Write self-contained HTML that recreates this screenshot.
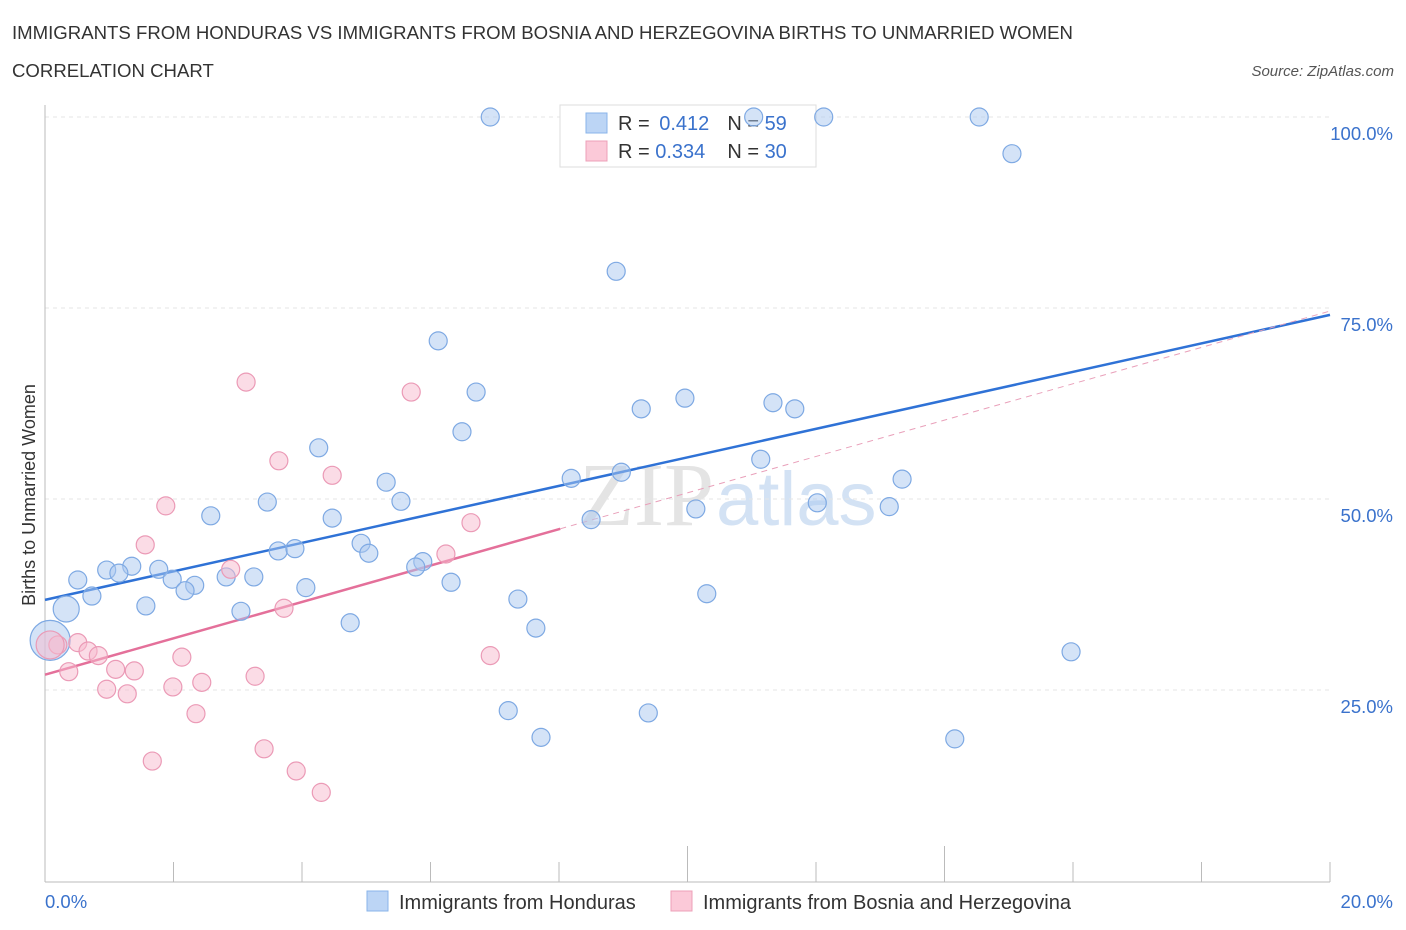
<!DOCTYPE html>
<html><head><meta charset="utf-8"><style>
body{margin:0;background:#fff;font-family:"Liberation Sans",sans-serif;}
svg{display:block}
</style></head><body>
<svg id="chart" width="1406" height="930" xmlns="http://www.w3.org/2000/svg">
<text x="12" y="39" font-size="18.6" fill="#333">IMMIGRANTS FROM HONDURAS VS IMMIGRANTS FROM BOSNIA AND HERZEGOVINA BIRTHS TO UNMARRIED WOMEN</text>
<text x="12" y="77" font-size="18.6" fill="#333">CORRELATION CHART</text>
<text x="1394" y="76" font-size="15" fill="#555" font-style="italic" text-anchor="end">Source: ZipAtlas.com</text>
<text x="714" y="525" font-size="90" fill="#e4e4e4" text-anchor="end" font-family="Liberation Serif,serif">ZIP</text>
<text x="716" y="525" font-size="76" fill="#d3e2f4">atlas</text>
<g id="grid"></g><g id="axes"></g>
<text x="35" y="495" font-size="18" fill="#333" text-anchor="middle" transform="rotate(-90 35 495)">Births to Unmarried Women</text>
<g>
<rect x="560" y="105" width="256" height="62" fill="#fff" stroke="#ddd"/>
<rect x="586" y="113" width="21" height="20" fill="#bcd5f5" stroke="#8ab4ea"/>
<rect x="586" y="141" width="21" height="20" fill="#fbc9d8" stroke="#eda0b8"/>
<text x="618" y="130" font-size="20" fill="#333">R = <tspan fill="#3a72cc" dx="4">0.412</tspan><tspan dx="18" fill="#333">N = </tspan><tspan fill="#3a72cc">59</tspan></text>
<text x="618" y="158" font-size="20" fill="#333">R = <tspan fill="#3a72cc">0.334</tspan><tspan dx="22" fill="#333">N = </tspan><tspan fill="#3a72cc">30</tspan></text>
</g>
<g id="lines"></g><g id="pts"></g>
<g>
<rect x="367" y="891" width="21" height="20" fill="#bcd5f5" stroke="#8ab4ea"/>
<text x="399" y="909" font-size="20" fill="#333">Immigrants from Honduras</text>
<rect x="671" y="891" width="21" height="20" fill="#fbc9d8" stroke="#eda0b8"/>
<text x="703" y="909" font-size="20" fill="#333">Immigrants from Bosnia and Herzegovina</text>
</g>
</svg>
<script>
const blueX=[6.93,11.03,12.12,14.54,15.05,8.89,6.12,6.71,6.49,4.26,9.28,9.96,11.33,11.67,11.14,8.97,8.19,5.31,13.34,5.54,3.46,12.02,13.14,10.13,2.58,4.47,8.50,4.92,5.04,3.63,3.89,5.88,5.77,6.32,1.35,0.96,1.15,1.77,1.98,0.51,2.33,2.18,2.82,3.25,4.06,0.73,7.36,10.30,1.57,0.33,3.05,4.75,7.64,15.97,0.08,7.21,9.39,7.72,14.16];
const blueY=[100,100,100,100,95.2,79.8,70.7,64.0,58.8,56.7,61.8,63.2,62.6,61.8,55.2,53.5,52.7,52.2,52.6,49.7,49.6,49.5,49.0,48.7,47.8,47.5,47.3,44.2,42.9,43.2,43.5,41.8,41.1,39.1,41.2,40.7,40.3,40.8,39.5,39.4,38.7,38.0,39.8,39.8,38.4,37.3,36.9,37.6,36.0,35.6,35.3,33.8,33.1,30.0,31.5,22.3,22.0,18.8,18.6];
const pinkX=[3.13,5.70,3.64,4.47,1.88,6.63,1.56,6.24,2.89,3.72,0.51,0.20,0.67,0.83,2.13,6.93,1.10,1.39,0.37,3.27,2.44,1.99,0.96,1.28,2.35,3.41,1.67,3.91,4.30,0.08];
const pinkY=[65.3,64.0,55.0,53.1,49.1,46.9,44.0,42.8,40.8,35.7,31.2,30.9,30.1,29.5,29.3,29.5,27.7,27.5,27.4,26.8,26.0,25.4,25.1,24.5,21.9,17.3,15.7,14.4,11.6,30.9];
const yTicks=[25,50,75,100];
const yTickLabels=["25.0%","50.0%","75.0%","100.0%"];
const blueTrend=[36.8,74.1];
const pinkTrend=[27.0,46.1,74.6];
const X=v=>45+v*64.25, Y=v=>881-v*7.64;
const NS="http://www.w3.org/2000/svg";
function mk(p,t,a){const e=document.createElementNS(NS,t);for(const k in a)e.setAttribute(k,a[k]);p.appendChild(e);return e;}
const grid=document.getElementById('grid'),axes=document.getElementById('axes'),lines=document.getElementById('lines'),pts=document.getElementById('pts');
yTicks.forEach((t,i)=>{
 const l=mk(grid,'line',{x1:45,x2:1330,y1:Y(t),y2:Y(t),stroke:'#e6e6e6','stroke-dasharray':'4,4'});
 
 
 const tx=mk(axes,'text',{x:1393,y:Y(t)+23,'font-size':18.5,fill:'#3a72cc','text-anchor':'end'});
 tx.textContent=yTickLabels[i];
 
 
});
let a=mk(axes,'line',{x1:45,x2:45,y1:105,y2:882,stroke:'#bbb'});


a=mk(axes,'line',{x1:45,x2:1330,y1:882,y2:882,stroke:'#bbb'});


for(let v=0;v<=20;v+=2){
 const t=mk(axes,'line',{x1:X(v),x2:X(v),y1:(v==10||v==14)?846:862,y2:882,stroke:'#bbb'});
 
 
}
[[0,"0.0%",45,'start'],[20,"20.0%",1393,'end']].forEach(d=>{
 const t=mk(axes,'text',{x:d[2],y:908,'font-size':18.5,fill:'#3a72cc','text-anchor':d[3]});
 t.textContent=d[1];
 
 
});
function dot(x,y,r,f,s,n){const c=mk(pts,'circle',{cx:X(x),cy:Y(y),r:r,fill:f,stroke:s,'stroke-width':1.2});
 
 }
blueX.forEach((x,i)=>dot(x,blueY[i],i==54?20:(i==49?13:9),'rgba(170,200,240,0.5)','#7ea9e3','honduras-point'));
pinkX.forEach((x,i)=>dot(x,pinkY[i],i==29?14:9,'rgba(248,185,205,0.5)','#eb9ab6','bosnia-point'));
let l=mk(lines,'line',{x1:X(0),y1:Y(blueTrend[0]),x2:X(20),y2:Y(blueTrend[1]),stroke:'#2f72d6','stroke-width':2.5});


l=mk(lines,'line',{x1:X(0),y1:Y(pinkTrend[0]),x2:X(8.02),y2:Y(pinkTrend[1]),stroke:'#e4709a','stroke-width':2.5});


l=mk(lines,'line',{x1:X(8.02),y1:Y(pinkTrend[1]),x2:X(20),y2:Y(pinkTrend[2]),stroke:'#e9a0ba','stroke-width':1,'stroke-dasharray':'6,5'});


</script>
</body></html>
